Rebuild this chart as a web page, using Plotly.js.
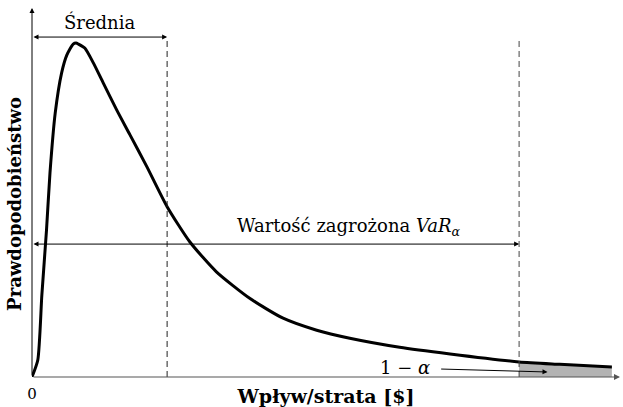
<!DOCTYPE html>
<html><head><meta charset="utf-8">
<script src="https://cdn.plot.ly/plotly-3.0.1.min.js"></script>
<style>html,body{margin:0;padding:0;background:#fff}#c{width:623px;height:407px}</style>
</head><body><div id="c"></div>
<script>
// Loss / impact values (arbitrary units) and probability density (peak = 100)
const lossX = [0, 1, 1.7, 2.5, 3.1, 4, 5.1, 6, 7.1, 7.6, 8, 9.1, 10.6, 12.3, 14.6, 16.9, 19.8, 23.3, 27.2, 31.8, 37.6, 43.3, 49.1, 54.8, 63.4, 72.1, 84, 91, 100];
const density = [0, 5.1, 24.6, 44, 61.1, 79, 91, 96.4, 99.7, 100, 99.7, 98.5, 94, 88, 80, 72.5, 63, 51, 40.5, 31.5, 23.5, 17.6, 14.0, 11.6, 8.9, 6.9, 4.5, 3.8, 3.0];
const meanLoss = 23.3;
const varLoss = 84;
const xTickVals = [0];
const xTickText = ['0'];

const font = 'DejaVu Serif';
const tailX = lossX.filter(v => v >= varLoss);
const tailY = density.filter((v, i) => lossX[i] >= varLoss);

const XMAX = 101.4, YMAX = 110.5;
const topY = 101.8;
const varArrowY = 39.8;

const data = [
  {x: tailX, y: tailY, type: 'scatter', mode: 'lines', fill: 'tozeroy',
   fillcolor: '#b3b3b3', line: {width: 0, color: '#b3b3b3'}, hoverinfo: 'skip'},
  {x: lossX, y: density, type: 'scatter', mode: 'lines',
   line: {color: '#000', width: 3, shape: 'spline', smoothing: 0.6}, hoverinfo: 'skip'}
];

const layout = {
  width: 623, height: 407,
  margin: {l: 32, r: 3, t: 8, b: 30},
  paper_bgcolor: '#fff', plot_bgcolor: '#fff',
  showlegend: false,
  font: {family: font, color: '#000', size: 15},
  xaxis: {range: [0, XMAX], showgrid: false, zeroline: false, showline: false,
    tickvals: xTickVals, ticktext: xTickText, ticks: '', ticklabelstandoff: 6,
    tickfont: {family: font, size: 15},
    title: {text: '<b>Wpływ/strata [$]</b>', font: {family: font, size: 19}, standoff: 0}},
  yaxis: {range: [0, YMAX], showgrid: false, zeroline: false, showline: false,
    showticklabels: false, ticks: ''},
  shapes: [
    {type: 'line', xref: 'x', yref: 'y', x0: meanLoss, x1: meanLoss, y0: 0, y1: topY,
     line: {color: '#222', width: 1, dash: '6px,4px'}},
    {type: 'line', xref: 'x', yref: 'y', x0: varLoss, x1: varLoss, y0: 0, y1: topY,
     line: {color: '#444', width: 1, dash: '6px,4px'}}
  ],
  annotations: [
    {xref: 'paper', yref: 'paper', x: -0.029, y: 0.469, xanchor: 'center', yanchor: 'middle',
     textangle: -90, showarrow: false, text: '<b>Prawdopodobieństwo</b>', font: {family: font, size: 18, color: '#000'}},
    {xref: 'x', yref: 'y', axref: 'x', ayref: 'y', x: XMAX, y: 0, ax: 0, ay: 0,
     showarrow: true, arrowhead: 2, arrowsize: 1, arrowwidth: 1.2, arrowcolor: '#555', text: ''},
    {xref: 'x', yref: 'y', axref: 'x', ayref: 'y', x: 0, y: YMAX, ax: 0, ay: 0,
     showarrow: true, arrowhead: 2, arrowsize: 1, arrowwidth: 1, arrowcolor: '#000', text: ''},
    {xref: 'x', yref: 'y', axref: 'x', ayref: 'y', x: meanLoss, y: topY, ax: 0, ay: topY,
     showarrow: true, arrowhead: 2, startarrowhead: 2, arrowside: 'end+start', arrowsize: 1,
     arrowwidth: 1, arrowcolor: '#000', text: ''},
    {xref: 'x', yref: 'y', x: meanLoss / 2, y: topY, yanchor: 'bottom', yshift: 2,
     showarrow: false, text: 'Średnia', font: {family: font, size: 18, color: '#000'}},
    {xref: 'x', yref: 'y', axref: 'x', ayref: 'y', x: varLoss, y: varArrowY, ax: 0, ay: varArrowY,
     showarrow: true, arrowhead: 2, startarrowhead: 2, arrowside: 'end+start', arrowsize: 1,
     arrowwidth: 1, arrowcolor: '#000', text: ''},
    {xref: 'x', yref: 'y', x: 54.7, y: varArrowY, yanchor: 'bottom', yshift: 3,
     showarrow: false, text: 'Wartość zagrożona <i>VaR</i><sub><i>α</i></sub>', font: {family: font, size: 18, color: '#000'}},
    {xref: 'x', yref: 'y', axref: 'x', ayref: 'y', x: 88.9, y: 1.5, ax: 70.3, ay: 2.4,
     showarrow: true, arrowhead: 2, arrowsize: 1, arrowwidth: 1, arrowcolor: '#000', text: ''},
    {xref: 'x', yref: 'y', x: 64.3, y: 2.7, showarrow: false,
     text: '1 − <i>α</i>', font: {family: font, size: 18, color: '#000'}}
  ]
};

Plotly.newPlot('c', data, layout, {staticPlot: true, displayModeBar: false});
</script></body></html>
